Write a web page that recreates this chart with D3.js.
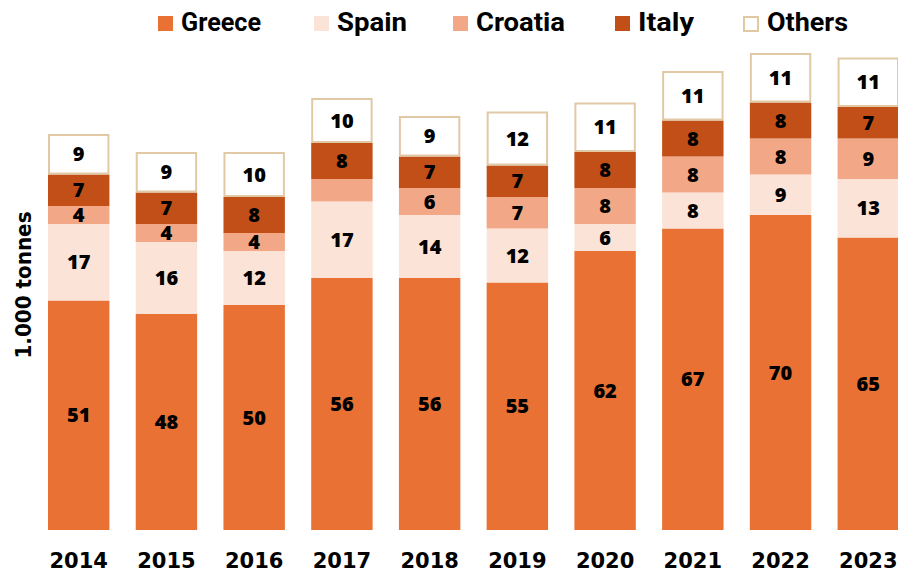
<!DOCTYPE html>
<html>
<head>
<meta charset="utf-8">
<script src="https://cdn.jsdelivr.net/npm/d3@7"></script>
<style>
  body { margin: 0; background: #fff; }
  svg { display: block; }
</style>
</head>
<body>
<div id="chart"></div>
<script>
var years = ['2014', '2015', '2016', '2017', '2018', '2019', '2020', '2021', '2022', '2023'];
var greece = [51, 48, 50, 56, 56, 55, 62, 67, 70, 65];
var spain = [17, 16, 12, 17, 14, 12, 6, 8, 9, 13];
var croatia = [4, 4, 4, 5, 6, 7, 8, 8, 8, 9];
var italy = [7, 7, 8, 8, 7, 7, 8, 8, 8, 7];
var others = [9, 9, 10, 10, 9, 12, 11, 11, 11, 11];
var seriesNames = ['Greece', 'Spain', 'Croatia', 'Italy', 'Others'];
// the 2017 Croatia value has no label in the original
var hiddenLabels = ['Croatia-2017'];

var colors = {
  Greece: '#e87133',
  Spain: '#fbe3d7',
  Croatia: '#f2a886',
  Italy: '#c14f17',
  Others: '#ffffff'
};

var width = 898, height = 572;
var margin = { top: 40, right: 0, bottom: 42, left: 48 };

var rows = years.map(function(y, i) {
  return { year: y, Greece: greece[i], Spain: spain[i], Croatia: croatia[i], Italy: italy[i], Others: others[i] };
});

var svg = d3.select('#chart').append('svg')
  .attr('width', width)
  .attr('height', height);

var x = d3.scaleBand()
  .domain(years)
  .range([margin.left, 899])
  .paddingInner(0.3)
  .paddingOuter(0);

var y = d3.scaleLinear()
  .domain([0, 110])
  .range([height - margin.bottom, height - margin.bottom - 110 * 4.5]);

var stack = d3.stack().keys(seriesNames);
var layers = stack(rows);

var g = svg.append('g');

layers.forEach(function(layer) {
  var name = layer.key,
      isOther = name === 'Others';
  var lg = g.append('g').attr('class', 'layer-' + name);
  lg.selectAll('rect')
    .data(layer)
    .enter()
    .append('rect')
      .attr('x', function(d) { return x(d.data.year) + (isOther ? 1 : 0); })
      .attr('width', x.bandwidth() - (isOther ? 2 : 0))
      .attr('y', function(d) { return y(d[1]) + (isOther ? 1 : 0); })
      .attr('height', function(d) { return y(d[0]) - y(d[1]) - (isOther ? 2 : 0); })
      .attr('fill', colors[name])
      .attr('stroke', isOther ? '#e2c9a6' : 'none')
      .attr('stroke-width', isOther ? 2 : 0);

  lg.selectAll('text')
    .data(layer.filter(function(d) { return hiddenLabels.indexOf(name + '-' + d.data.year) < 0; }))
    .enter()
    .append('text')
      .attr('x', function(d) { return x(d.data.year) + x.bandwidth() / 2; })
      .attr('y', function(d) { return (y(d[0]) + y(d[1])) / 2; })
      .attr('dy', '0.36em')
      .attr('text-anchor', 'middle')
      .attr('font-family', 'Open Sans, sans-serif')
      .attr('font-weight', 800)
      .attr('font-size', 20)
      .attr('fill', '#000')
      .text(function(d) { return d[1] - d[0]; });
});

// x axis labels
var xAxis = d3.axisBottom(x).tickSize(0).tickPadding(23);
var xg = svg.append('g')
  .attr('transform', 'translate(0,' + (height - margin.bottom) + ')')
  .call(xAxis);
xg.select('.domain').remove();
xg.selectAll('text')
  .attr('font-family', 'DejaVu Sans, sans-serif')
  .attr('font-weight', 'bold')
  .attr('font-size', 21)
  .attr('fill', '#000');

// y axis title
svg.append('text')
  .attr('transform', 'translate(31,285) rotate(-90)')
  .attr('text-anchor', 'middle')
  .attr('font-family', 'DejaVu Sans, sans-serif')
  .attr('font-weight', 'bold')
  .attr('font-size', 22)
  .attr('textLength', 147)
  .attr('lengthAdjust', 'spacingAndGlyphs')
  .text('1.000 tonnes');

// legend
var legendX = [158, 314, 453, 615, 743];
var legendW = [80, 70, 89, 56, 81];
var legend = svg.append('g');
seriesNames.forEach(function(name, i) {
  var isOther = name === 'Others';
  var item = legend.append('g').attr('transform', 'translate(' + legendX[i] + ',0)');
  item.append('rect')
    .attr('x', isOther ? 1 : 0)
    .attr('y', isOther ? 17 : 16)
    .attr('width', isOther ? 14 : 15)
    .attr('height', isOther ? 14 : 15)
    .attr('fill', colors[name])
    .attr('stroke', isOther ? '#e2c9a6' : 'none')
    .attr('stroke-width', isOther ? 2 : 0);
  item.append('text')
    .attr('x', isOther ? 24 : 23)
    .attr('y', 31)
    .attr('font-family', 'Roboto, sans-serif')
    .attr('font-weight', 'bold')
    .attr('font-size', 26)
    .attr('textLength', legendW[i])
    .attr('lengthAdjust', 'spacingAndGlyphs')
    .text(name);
});
</script>
</body>
</html>
